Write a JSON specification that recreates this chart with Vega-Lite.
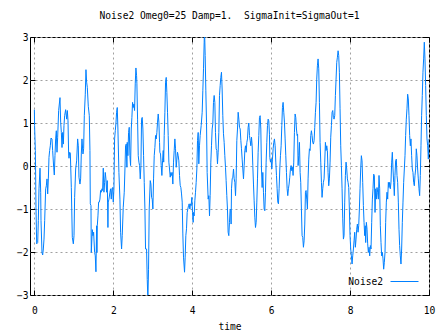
{
  "$schema": "https://vega.github.io/schema/vega-lite/v6.json",
  "width": 399,
  "height": 258,
  "autosize": "none",
  "padding": {"left": 30, "top": 37, "right": 18, "bottom": 40},
  "background": "white",
  "title": {"text": "Noise2 Omeg0=25 Damp=1.\u00a0 SigmaInit=SigmaOut=1", "font": "DejaVu Sans Mono", "fontSize": 9.6, "fontWeight": "normal", "color": "black", "anchor": "middle", "offset": 8},
  "config": {
    "view": {"stroke": "black", "strokeWidth": 1},
    "axis": {"labelFont": "DejaVu Sans Mono", "labelFontSize": 9.6, "labelColor": "black", "titleFont": "DejaVu Sans Mono", "titleFontSize": 9.6, "titleFontWeight": "normal", "titleColor": "black", "domain": false, "tickColor": "black", "tickSize": -5, "gridColor": "#a0a0a0", "gridDash": [2, 3], "gridOpacity": 1}
  },
  "data": {"values": [
{"t":0.0,"v":1.31},{"t":0.005,"v":0.94},{"t":0.025,"v":0.36},{"t":0.041,"v":-0.96},{"t":0.058,"v":-1.81},{"t":0.084,"v":-1.78},{"t":0.100,"v":-1.27},{"t":0.117,"v":-0.53},{"t":0.143,"v":-0.05},{"t":0.160,"v":-0.61},{"t":0.168,"v":-1.27},{"t":0.193,"v":-2.01},{"t":0.210,"v":-2.07},{"t":0.227,"v":-1.93},{"t":0.244,"v":-1.70},{"t":0.261,"v":-1.27},{"t":0.286,"v":-0.53},{"t":0.303,"v":-0.46},{"t":0.320,"v":-0.30},{"t":0.337,"v":-0.65},{"t":0.354,"v":-0.30},{"t":0.370,"v":0.20},{"t":0.387,"v":0.36},{"t":0.404,"v":0.47},{"t":0.421,"v":0.65},{"t":0.446,"v":0.63},{"t":0.463,"v":0.36},{"t":0.489,"v":-0.03},{"t":0.505,"v":-0.21},{"t":0.522,"v":0.24},{"t":0.539,"v":0.63},{"t":0.556,"v":0.82},{"t":0.573,"v":0.32},{"t":0.590,"v":0.67},{"t":0.615,"v":1.29},{"t":0.649,"v":1.59},{"t":0.666,"v":1.02},{"t":0.683,"v":0.78},{"t":0.700,"v":0.43},{"t":0.717,"v":0.78},{"t":0.734,"v":0.51},{"t":0.750,"v":0.94},{"t":0.767,"v":1.17},{"t":0.792,"v":1.31},{"t":0.818,"v":1.09},{"t":0.835,"v":1.29},{"t":0.852,"v":1.05},{"t":0.868,"v":0.28},{"t":0.877,"v":0.18},{"t":0.894,"v":0.32},{"t":0.911,"v":0.30},{"t":0.936,"v":-0.50},{"t":0.961,"v":-1.66},{"t":0.987,"v":-1.81},{"t":1.004,"v":-1.62},{"t":1.020,"v":-0.73},{"t":1.046,"v":-0.07},{"t":1.071,"v":0.12},{"t":1.096,"v":0.63},{"t":1.113,"v":0.47},{"t":1.130,"v":-0.26},{"t":1.155,"v":-0.42},{"t":1.172,"v":-0.30},{"t":1.189,"v":0.28},{"t":1.206,"v":0.63},{"t":1.231,"v":0.28},{"t":1.248,"v":0.40},{"t":1.265,"v":1.17},{"t":1.290,"v":1.67},{"t":1.307,"v":2.24},{"t":1.324,"v":1.95},{"t":1.341,"v":1.83},{"t":1.366,"v":1.39},{"t":1.392,"v":1.17},{"t":1.408,"v":0.36},{"t":1.417,"v":-0.88},{"t":1.434,"v":-0.92},{"t":1.442,"v":-2.01},{"t":1.468,"v":-1.48},{"t":1.484,"v":-1.62},{"t":1.501,"v":-1.54},{"t":1.527,"v":-2.01},{"t":1.543,"v":-2.09},{"t":1.560,"v":-2.46},{"t":1.577,"v":-1.39},
{"t":1.585,"v":-2.01},{"t":1.594,"v":-1.39},{"t":1.611,"v":-1.16},{"t":1.628,"v":-0.84},{"t":1.645,"v":-0.84},{"t":1.661,"v":-0.77},{"t":1.678,"v":-0.57},{"t":1.695,"v":-0.61},{"t":1.712,"v":-0.53},{"t":1.729,"v":-0.57},{"t":1.746,"v":-0.05},{"t":1.763,"v":-0.61},{"t":1.780,"v":-0.38},{"t":1.796,"v":-0.15},{"t":1.813,"v":-0.30},{"t":1.830,"v":-0.61},{"t":1.847,"v":-0.34},{"t":1.864,"v":-1.43},{"t":1.872,"v":-0.84},{"t":1.890,"v":-0.77},{"t":1.915,"v":-0.61},{"t":1.931,"v":-0.53},{"t":1.948,"v":-0.77},{"t":1.965,"v":-0.53},{"t":1.982,"v":-0.50},{"t":1.999,"v":-0.84},{"t":2.016,"v":-0.53},{"t":2.033,"v":0.63},{"t":2.050,"v":0.82},{"t":2.066,"v":0.98},{"t":2.083,"v":1.25},{"t":2.100,"v":1.36},{"t":2.117,"v":0.86},{"t":2.142,"v":-0.15},{"t":2.168,"v":-0.77},{"t":2.185,"v":-1.54},{"t":2.210,"v":-1.93},{"t":2.226,"v":-1.62},{"t":2.252,"v":-0.96},{"t":2.277,"v":-0.61},{"t":2.295,"v":-0.07},{"t":2.311,"v":0.47},{"t":2.328,"v":0.51},{"t":2.345,"v":-0.03},{"t":2.353,"v":0.55},{"t":2.370,"v":0.24},{"t":2.387,"v":0.78},{"t":2.404,"v":0.90},{"t":2.421,"v":0.24},{"t":2.438,"v":0.01},{"t":2.455,"v":0.86},{"t":2.471,"v":1.13},{"t":2.488,"v":1.48},{"t":2.505,"v":1.36},{"t":2.522,"v":1.44},{"t":2.539,"v":1.29},{"t":2.556,"v":1.91},{"t":2.573,"v":2.28},{"t":2.590,"v":2.10},{"t":2.598,"v":1.91},{"t":2.615,"v":1.09},{"t":2.632,"v":0.24},{"t":2.649,"v":0.09},{"t":2.666,"v":0.01},{"t":2.683,"v":-0.30},{"t":2.700,"v":0.01},{"t":2.716,"v":1.09},{"t":2.733,"v":1.13},{"t":2.750,"v":0.86},{"t":2.767,"v":0.24},{"t":2.784,"v":-0.38},{"t":2.801,"v":-1.0},{"t":2.817,"v":-1.93},{"t":2.843,"v":-1.93},{"t":2.860,"v":-2.64},{"t":2.876,"v":-3.1},{"t":2.893,"v":-2.40},{"t":2.910,"v":-1.0},{"t":2.936,"v":-0.34},{"t":2.953,"v":-0.42},{"t":2.970,"v":-0.73},{"t":2.986,"v":-0.77},{"t":3.003,"v":-1.0},{"t":3.020,"v":-0.30},{"t":3.037,"v":0.24},{"t":3.054,"v":0.43},{"t":3.071,"v":0.71},{"t":3.088,"v":0.63},{"t":3.104,"v":0.78},{"t":3.121,"v":1.02},{"t":3.138,"v":1.21},{"t":3.155,"v":1.02},{"t":3.172,"v":0.55},{"t":3.180,"v":0.32},{"t":3.197,"v":0.28},{"t":3.214,"v":0.01},{"t":3.231,"v":-0.22},{"t":3.248,"v":0.12},{"t":3.265,"v":0.36},
{"t":3.277,"v":0.09},{"t":3.290,"v":0.71},{"t":3.307,"v":1.25},{"t":3.324,"v":1.95},{"t":3.341,"v":2.06},{"t":3.357,"v":1.71},{"t":3.374,"v":1.25},{"t":3.391,"v":0.71},{"t":3.408,"v":0.09},{"t":3.425,"v":-0.07},{"t":3.442,"v":-0.26},{"t":3.459,"v":-0.15},{"t":3.476,"v":-0.22},{"t":3.492,"v":-0.15},{"t":3.509,"v":-0.42},{"t":3.526,"v":0.09},{"t":3.543,"v":0.36},{"t":3.560,"v":0.63},{"t":3.577,"v":0.40},{"t":3.594,"v":-0.03},{"t":3.611,"v":0.16},{"t":3.627,"v":0.32},{"t":3.644,"v":0.24},{"t":3.661,"v":0.12},{"t":3.678,"v":-0.22},{"t":3.695,"v":-0.45},{"t":3.712,"v":-0.50},{"t":3.729,"v":-0.65},{"t":3.746,"v":-0.84},{"t":3.762,"v":-1.58},{"t":3.779,"v":-2.12},{"t":3.805,"v":-2.47},{"t":3.821,"v":-2.12},{"t":3.838,"v":-1.62},{"t":3.855,"v":-1.46},{"t":3.872,"v":-1.08},{"t":3.889,"v":-1.0},{"t":3.906,"v":-0.92},{"t":3.923,"v":-0.88},{"t":3.940,"v":-1.0},{"t":3.956,"v":-0.88},{"t":3.973,"v":-0.92},{"t":3.990,"v":-0.73},{"t":4.007,"v":-1.08},{"t":4.024,"v":-1.31},{"t":4.032,"v":-1.08},{"t":4.049,"v":-1.16},{"t":4.066,"v":-0.81},{"t":4.083,"v":-0.61},{"t":4.100,"v":-0.38},{"t":4.117,"v":-0.07},{"t":4.134,"v":0.59},{"t":4.151,"v":0.78},{"t":4.167,"v":0.05},{"t":4.184,"v":0.47},{"t":4.201,"v":0.71},{"t":4.227,"v":0.94},{"t":4.252,"v":1.25},{"t":4.269,"v":1.75},{"t":4.286,"v":2.26},{"t":4.303,"v":2.88},{"t":4.311,"v":3.2},{"t":4.328,"v":2.57},{"t":4.345,"v":1.75},{"t":4.362,"v":1.02},{"t":4.378,"v":-0.15},{"t":4.404,"v":-0.77},{"t":4.421,"v":-0.69},{"t":4.438,"v":-1.16},{"t":4.454,"v":-0.69},{"t":4.471,"v":0.09},{"t":4.488,"v":0.47},{"t":4.505,"v":0.86},{"t":4.522,"v":0.98},{"t":4.539,"v":1.48},{"t":4.556,"v":1.64},{"t":4.573,"v":1.48},{"t":4.589,"v":0.78},{"t":4.606,"v":0.40},{"t":4.623,"v":0.36},{"t":4.640,"v":0.05},{"t":4.657,"v":0.32},{"t":4.674,"v":0.78},{"t":4.691,"v":1.64},{"t":4.708,"v":1.87},{"t":4.724,"v":2.06},{"t":4.741,"v":2.18},{"t":4.758,"v":1.79},{"t":4.775,"v":1.17},{"t":4.792,"v":0.75},{"t":4.809,"v":0.55},{"t":4.826,"v":0.24},{"t":4.843,"v":-0.03},{"t":4.859,"v":-0.34},{"t":4.876,"v":-0.69},{"t":4.893,"v":-1.0},{"t":4.910,"v":-1.54},{"t":4.927,"v":-1.62},{"t":4.944,"v":-1.31},{"t":4.961,"v":-1.0},{"t":4.978,"v":-1.04},
{"t":4.985,"v":-1.35},{"t":4.995,"v":-0.53},{"t":5.012,"v":-0.30},{"t":5.029,"v":-0.26},{"t":5.046,"v":-0.07},{"t":5.063,"v":-0.30},{"t":5.080,"v":-0.38},{"t":5.097,"v":-0.69},{"t":5.113,"v":-0.30},{"t":5.130,"v":0.59},{"t":5.147,"v":0.86},{"t":5.164,"v":1.25},{"t":5.181,"v":1.09},{"t":5.198,"v":0.90},{"t":5.215,"v":0.86},{"t":5.232,"v":0.59},{"t":5.248,"v":0.40},{"t":5.265,"v":0.16},{"t":5.282,"v":-0.07},{"t":5.299,"v":-0.30},{"t":5.316,"v":0.01},{"t":5.333,"v":0.36},{"t":5.350,"v":0.47},{"t":5.367,"v":0.32},{"t":5.384,"v":0.55},{"t":5.400,"v":0.63},{"t":5.417,"v":0.90},{"t":5.434,"v":1.0},{"t":5.451,"v":0.71},{"t":5.468,"v":0.59},{"t":5.485,"v":0.47},{"t":5.502,"v":0.67},{"t":5.519,"v":0.47},{"t":5.535,"v":0.01},{"t":5.552,"v":-0.42},{"t":5.569,"v":-0.81},{"t":5.586,"v":-1.19},{"t":5.603,"v":-1.43},{"t":5.620,"v":-1.31},{"t":5.637,"v":-0.84},{"t":5.654,"v":-0.30},{"t":5.670,"v":0.32},{"t":5.687,"v":0.71},{"t":5.704,"v":1.13},{"t":5.721,"v":1.17},{"t":5.738,"v":0.86},{"t":5.755,"v":-0.07},{"t":5.772,"v":-0.50},{"t":5.789,"v":-0.15},{"t":5.805,"v":-0.61},{"t":5.822,"v":-1.0},{"t":5.839,"v":-1.04},{"t":5.856,"v":-0.61},{"t":5.873,"v":0.09},{"t":5.890,"v":0.55},{"t":5.907,"v":0.94},{"t":5.924,"v":1.09},{"t":5.940,"v":1.05},{"t":5.957,"v":0.74},{"t":5.966,"v":0.20},{"t":5.983,"v":0.09},{"t":6.000,"v":0.16},{"t":6.016,"v":-0.07},{"t":6.033,"v":0.16},{"t":6.050,"v":0.40},{"t":6.067,"v":0.55},{"t":6.084,"v":0.63},{"t":6.101,"v":0.47},{"t":6.118,"v":0.09},{"t":6.135,"v":-0.22},{"t":6.151,"v":-0.53},{"t":6.168,"v":-0.84},{"t":6.185,"v":-0.88},{"t":6.202,"v":-0.53},{"t":6.219,"v":-0.07},{"t":6.236,"v":0.24},{"t":6.253,"v":0.47},{"t":6.270,"v":0.94},{"t":6.286,"v":1.36},{"t":6.303,"v":1.48},{"t":6.320,"v":1.25},{"t":6.337,"v":1.02},{"t":6.354,"v":0.63},{"t":6.371,"v":0.24},{"t":6.388,"v":-0.15},{"t":6.405,"v":-0.53},{"t":6.421,"v":-0.69},{"t":6.438,"v":-0.53},{"t":6.455,"v":-0.42},{"t":6.472,"v":-0.26},{"t":6.489,"v":-0.07},{"t":6.506,"v":0.01},{"t":6.523,"v":-0.11},{"t":6.540,"v":-0.03},{"t":6.556,"v":-0.22},{"t":6.573,"v":0.09},{"t":6.590,"v":0.78},{"t":6.607,"v":1.21},{"t":6.624,"v":1.13},{"t":6.641,"v":0.86},{"t":6.658,"v":0.71},
{"t":6.670,"v":0.74},{"t":6.683,"v":0.01},{"t":6.700,"v":0.24},{"t":6.717,"v":0.55},{"t":6.734,"v":-0.15},{"t":6.750,"v":-0.38},{"t":6.767,"v":-1.0},{"t":6.784,"v":-1.62},{"t":6.801,"v":-1.66},{"t":6.818,"v":-1.89},{"t":6.835,"v":-1.74},{"t":6.852,"v":-1.35},{"t":6.869,"v":-0.61},{"t":6.885,"v":-0.57},{"t":6.902,"v":-0.77},{"t":6.919,"v":-1.0},{"t":6.936,"v":-0.30},{"t":6.953,"v":0.16},{"t":6.970,"v":0.40},{"t":6.987,"v":0.36},{"t":7.004,"v":0.71},{"t":7.020,"v":0.82},{"t":7.037,"v":0.71},{"t":7.054,"v":0.55},{"t":7.071,"v":0.51},{"t":7.088,"v":0.59},{"t":7.105,"v":0.90},{"t":7.122,"v":1.25},{"t":7.139,"v":1.48},{"t":7.155,"v":2.02},{"t":7.172,"v":2.33},{"t":7.189,"v":2.49},{"t":7.206,"v":2.26},{"t":7.223,"v":1.48},{"t":7.240,"v":0.55},{"t":7.257,"v":0.09},{"t":7.274,"v":-0.38},{"t":7.290,"v":-0.73},{"t":7.307,"v":-0.53},{"t":7.324,"v":-0.38},{"t":7.341,"v":-0.30},{"t":7.358,"v":0.09},{"t":7.375,"v":0.55},{"t":7.392,"v":0.36},{"t":7.409,"v":0.47},{"t":7.425,"v":0.36},{"t":7.442,"v":-0.15},{"t":7.459,"v":-0.46},{"t":7.476,"v":-0.30},{"t":7.493,"v":0.09},{"t":7.510,"v":0.67},{"t":7.527,"v":0.94},{"t":7.544,"v":1.25},{"t":7.561,"v":1.29},{"t":7.577,"v":1.13},{"t":7.594,"v":1.09},{"t":7.611,"v":1.17},{"t":7.628,"v":1.64},{"t":7.645,"v":2.02},{"t":7.662,"v":2.41},{"t":7.679,"v":2.53},{"t":7.696,"v":2.68},{"t":7.712,"v":2.57},{"t":7.729,"v":2.18},{"t":7.746,"v":1.33},{"t":7.763,"v":0.47},{"t":7.780,"v":0.01},{"t":7.797,"v":-0.53},{"t":7.814,"v":-1.23},{"t":7.831,"v":-1.70},{"t":7.847,"v":-1.62},{"t":7.864,"v":-0.84},{"t":7.881,"v":-0.22},{"t":7.898,"v":0.09},{"t":7.915,"v":-0.07},{"t":7.932,"v":-0.30},{"t":7.949,"v":-0.38},{"t":7.966,"v":-0.50},{"t":7.982,"v":-1.0},{"t":7.999,"v":-1.62},{"t":8.016,"v":-1.93},{"t":8.033,"v":-2.09},{"t":8.050,"v":-2.28},{"t":8.067,"v":-2.09},{"t":8.084,"v":-1.93},{"t":8.101,"v":-1.74},{"t":8.117,"v":-1.54},{"t":8.134,"v":-1.89},{"t":8.151,"v":-1.70},{"t":8.168,"v":-1.47},{"t":8.185,"v":-1.35},{"t":8.202,"v":-1.54},{"t":8.219,"v":-1.39},{"t":8.236,"v":-1.0},{"t":8.252,"v":-0.53},{"t":8.269,"v":-0.07},{"t":8.286,"v":0.24},{"t":8.303,"v":0.12},{"t":8.320,"v":-0.38},{"t":8.337,"v":-0.92},{"t":8.354,"v":-1.31},{"t":8.371,"v":-1.62},
{"t":8.385,"v":-1.39},{"t":8.396,"v":-1.78},{"t":8.413,"v":-1.31},{"t":8.430,"v":-1.47},{"t":8.446,"v":-1.81},{"t":8.463,"v":-2.01},{"t":8.480,"v":-1.89},{"t":8.497,"v":-2.09},{"t":8.514,"v":-1.85},{"t":8.531,"v":-1.93},{"t":8.548,"v":-1.31},{"t":8.565,"v":-0.77},{"t":8.581,"v":-0.53},{"t":8.598,"v":-0.19},{"t":8.615,"v":-0.22},{"t":8.632,"v":-1.08},{"t":8.649,"v":-0.53},{"t":8.666,"v":-0.77},{"t":8.683,"v":-0.50},{"t":8.700,"v":-0.61},{"t":8.716,"v":-0.77},{"t":8.733,"v":-0.22},{"t":8.750,"v":-0.53},{"t":8.767,"v":-1.39},{"t":8.784,"v":-1.78},{"t":8.801,"v":-2.09},{"t":8.818,"v":-2.01},{"t":8.835,"v":-2.16},{"t":8.851,"v":-2.40},{"t":8.868,"v":-2.24},{"t":8.885,"v":-2.01},{"t":8.902,"v":-1.31},{"t":8.919,"v":-0.84},{"t":8.936,"v":-0.61},{"t":8.953,"v":-0.77},{"t":8.970,"v":-0.38},{"t":8.986,"v":-0.50},{"t":9.003,"v":-0.38},{"t":9.020,"v":-0.53},{"t":9.037,"v":-0.38},{"t":9.054,"v":0.09},{"t":9.071,"v":0.32},{"t":9.088,"v":-0.07},{"t":9.105,"v":-0.38},{"t":9.121,"v":-0.69},{"t":9.138,"v":-0.22},{"t":9.155,"v":0.12},{"t":9.172,"v":0.16},{"t":9.189,"v":-0.22},{"t":9.206,"v":-0.38},{"t":9.223,"v":-0.84},{"t":9.240,"v":-1.47},{"t":9.256,"v":-1.85},{"t":9.273,"v":-2.09},{"t":9.290,"v":-2.28},{"t":9.307,"v":-1.93},{"t":9.324,"v":-1.31},{"t":9.341,"v":-0.84},{"t":9.358,"v":-0.38},{"t":9.375,"v":-0.07},{"t":9.392,"v":0.24},{"t":9.408,"v":0.71},{"t":9.425,"v":1.09},{"t":9.442,"v":1.33},{"t":9.459,"v":1.67},{"t":9.476,"v":1.56},{"t":9.493,"v":1.17},{"t":9.510,"v":0.71},{"t":9.527,"v":0.47},{"t":9.543,"v":0.63},{"t":9.560,"v":0.24},{"t":9.577,"v":-0.07},{"t":9.594,"v":-0.15},{"t":9.611,"v":-0.38},{"t":9.628,"v":-0.46},{"t":9.645,"v":-0.22},{"t":9.662,"v":-0.07},{"t":9.678,"v":0.40},{"t":9.695,"v":0.24},{"t":9.712,"v":-0.07},{"t":9.729,"v":-0.30},{"t":9.746,"v":-0.53},{"t":9.763,"v":-0.69},{"t":9.780,"v":-0.22},{"t":9.797,"v":0.47},{"t":9.813,"v":1.17},{"t":9.830,"v":1.64},{"t":9.847,"v":2.18},{"t":9.864,"v":2.49},{"t":9.881,"v":2.88},{"t":9.898,"v":2.49},{"t":9.915,"v":1.87},{"t":9.932,"v":1.17},{"t":9.949,"v":0.63},{"t":9.966,"v":0.47},{"t":9.983,"v":0.16},{"t":10.0,"v":0.63}
  ]},
  "layer": [
    {
      "mark": {"type": "line", "clip": true, "strokeWidth": 1, "interpolate": "linear"},
      "encoding": {
        "x": {"field": "t", "type": "quantitative", "scale": {"domain": [-0.111, 10], "nice": false, "zero": false}, "axis": {"orient": "bottom", "values": [0, 2, 4, 6, 8, 10], "grid": true, "title": "time", "labelPadding": 15, "titlePadding": 7, "labelFlush": false}},
        "y": {"field": "v", "type": "quantitative", "scale": {"domain": [-3, 3], "nice": false, "zero": false}, "axis": {"orient": "left", "values": [-3, -2, -1, 0, 1, 2, 3], "grid": true, "title": null, "labelPadding": 7, "labelFlush": false}},
        "color": {"datum": "Noise2", "type": "nominal", "scale": {"range": ["#0080ff"]}, "legend": {"title": null, "orient": "bottom-right", "symbolType": "stroke", "symbolSize": 784, "symbolStrokeWidth": 1, "labelFont": "DejaVu Sans Mono", "labelFontSize": 9.6, "labelColor": "black", "labelAlign": "right", "labelOffset": -36, "offset": 8}}
      }
    },
    {
      "mark": {"type": "line", "opacity": 0},
      "encoding": {
        "x": {"field": "t", "type": "quantitative", "axis": {"orient": "top", "values": [0, 2, 4, 6, 8, 10], "labels": false, "grid": false, "title": null}},
        "y": {"field": "v", "type": "quantitative", "axis": {"orient": "right", "values": [-3, -2, -1, 0, 1, 2, 3], "labels": false, "grid": false, "title": null}}
      }
    }
  ]
}
